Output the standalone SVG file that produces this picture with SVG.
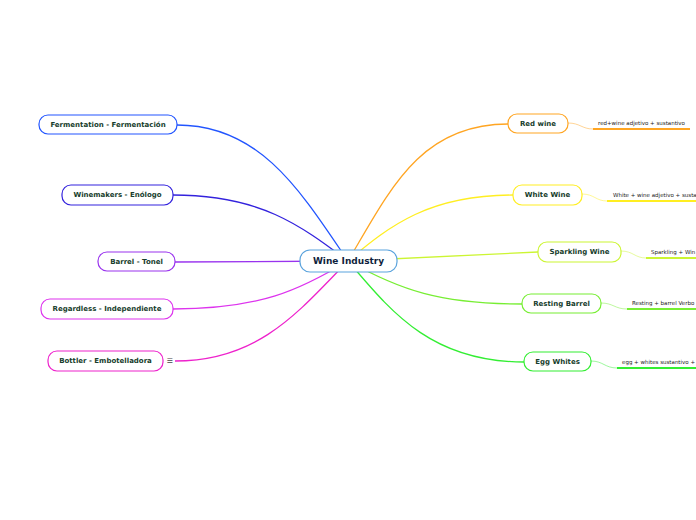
<svg xmlns="http://www.w3.org/2000/svg" width="696" height="520" viewBox="0 0 696 520">
<style>
.n{fill:#fff;stroke-width:1.2}
.t{font-family:"DejaVu Sans",Verdana,sans-serif;font-weight:bold;font-size:7px;fill:#173d2c;text-anchor:middle;dominant-baseline:central}
.c{font-family:"DejaVu Sans",Verdana,sans-serif;font-weight:bold;font-size:9px;fill:#0f1f3d;text-anchor:middle;dominant-baseline:central}
.s{font-family:"DejaVu Sans",Verdana,sans-serif;font-size:5.5px;fill:#222;dominant-baseline:alphabetic}
.l{fill:none;stroke-width:1.3}
.f{fill:none;stroke-width:0.8;opacity:0.6}
.u{fill:none;stroke-width:2}
</style>
<rect width="696" height="520" fill="#fff"/>
<g id="connectors">
<path class="l" stroke="#2255ff" d="M177,125 C260,125 300,190 348,261"/>
<path class="l" stroke="#3322dd" d="M173,195 C260,195 300,225 348,261"/>
<path class="l" stroke="#9933ee" d="M175,262 L348,261"/>
<path class="l" stroke="#dd33ee" d="M173,309 C260,309 300,290 348,261"/>
<path class="l" stroke="#ee22cc" d="M175,361 C260,361 300,310 348,261"/>
<path class="l" stroke="#ffa522" d="M508,124 C420,124 390,190 348,261"/>
<path class="l" stroke="#ffee22" d="M513,195 C430,195 390,225 348,261"/>
<path class="l" stroke="#ccf533" d="M538,252 L348,261"/>
<path class="l" stroke="#77ee33" d="M522,304 C440,304 400,290 348,261"/>
<path class="l" stroke="#33ee33" d="M524,362 C430,362 390,310 348,261"/>
<path class="f" stroke="#ffa522" d="M568,123 C580,123 582,129 593,129"/>
<path class="u" stroke="#ffa522" d="M593,129 H690"/>
<path class="f" stroke="#ffee22" d="M582,194 C594,194 596,201 607,201"/>
<path class="u" stroke="#ffee22" d="M607,201 H696"/>
<path class="f" stroke="#ccf533" d="M621,251 C633,251 635,258 646,258"/>
<path class="u" stroke="#ccf533" d="M646,258 H696"/>
<path class="f" stroke="#77ee33" d="M601,303 C613,303 615,309 627,309"/>
<path class="u" stroke="#77ee33" d="M627,309 H696"/>
<path class="f" stroke="#33ee33" d="M591,361 C603,361 605,368 617,368"/>
<path class="u" stroke="#33ee33" d="M617,368 H696"/>
</g>
<g id="center"><rect class="n" x="300" y="250" width="97" height="22" rx="10" stroke="#5ba3dd" fill="#fcfdff"/><text class="c" x="348.5" y="261">Wine Industry</text></g>
<g id="fermentation"><rect class="n" x="39" y="115" width="138" height="19" rx="9" stroke="#2255ff"/><text class="t" x="108" y="124.5">Fermentation - Fermentación</text></g>
<g id="winemakers"><rect class="n" x="62" y="185" width="111" height="20" rx="9" stroke="#3322dd"/><text class="t" x="117.5" y="195">Winemakers - Enólogo</text></g>
<g id="barrel"><rect class="n" x="98" y="252" width="77" height="19" rx="9" stroke="#9933ee"/><text class="t" x="136.5" y="261.5">Barrel - Tonel</text></g>
<g id="regardless"><rect class="n" x="41" y="299" width="132" height="20" rx="9" stroke="#dd33ee"/><text class="t" x="107" y="309">Regardless - Independiente</text></g>
<g id="bottler"><rect class="n" x="48" y="351" width="115" height="20" rx="9" stroke="#ee22cc"/><text class="t" x="105.5" y="361">Bottler - Embotelladora</text><text x="170" y="361" font-family="DejaVu Sans,sans-serif" font-size="7" fill="#444" text-anchor="middle" dominant-baseline="central">☰</text></g>
<g id="redwine"><rect class="n" x="508" y="114" width="60" height="19" rx="9" stroke="#ffa522"/><text class="t" x="538" y="123.5">Red wine</text><text class="s" x="598" y="125">red+wine adjetivo + sustantivo</text></g>
<g id="whitewine"><rect class="n" x="513" y="185" width="69" height="20" rx="9" stroke="#ffee22"/><text class="t" x="547.5" y="195">White Wine</text><text class="s" x="613" y="197">White + wine adjetivo + susta</text></g>
<g id="sparkling"><rect class="n" x="538" y="242" width="83" height="20" rx="9" stroke="#ccf533"/><text class="t" x="579.5" y="252">Sparkling Wine</text><text class="s" x="651" y="254">Sparkling + Win</text></g>
<g id="resting"><rect class="n" x="522" y="294" width="79" height="19" rx="9" stroke="#77ee33"/><text class="t" x="561.5" y="303.5">Resting Barrel</text><text class="s" x="632" y="305">Resting + barrel Verbo</text></g>
<g id="egg"><rect class="n" x="524" y="352" width="67" height="19" rx="9" stroke="#33ee33"/><text class="t" x="557.5" y="361.5">Egg Whites</text><text class="s" x="622" y="364">egg + whites sustantivo +</text></g>
</svg>
